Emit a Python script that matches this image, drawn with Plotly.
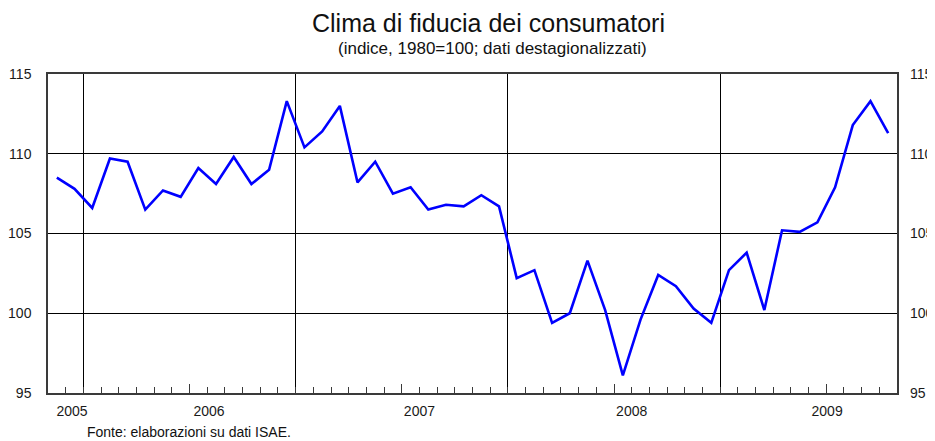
import plotly.graph_objects as go

# ---- data -----------------------------------------------------------------
months = [
    "2005-11", "2005-12",
    "2006-01", "2006-02", "2006-03", "2006-04", "2006-05", "2006-06",
    "2006-07", "2006-08", "2006-09", "2006-10", "2006-11", "2006-12",
    "2007-01", "2007-02", "2007-03", "2007-04", "2007-05", "2007-06",
    "2007-07", "2007-08", "2007-09", "2007-10", "2007-11", "2007-12",
    "2008-01", "2008-02", "2008-03", "2008-04", "2008-05", "2008-06",
    "2008-07", "2008-08", "2008-09", "2008-10", "2008-11", "2008-12",
    "2009-01", "2009-02", "2009-03", "2009-04", "2009-05", "2009-06",
    "2009-07", "2009-08", "2009-09", "2009-10",
]
clima = [
    108.5, 107.8,
    106.6, 109.7, 109.5, 106.5, 107.7, 107.3,
    109.1, 108.1, 109.8, 108.1, 109.0, 113.3,
    110.4, 111.4, 113.0, 108.2, 109.5, 107.5,
    107.9, 106.5, 106.8, 106.7, 107.4, 106.7,
    102.2, 102.7, 99.4, 100.0, 103.3, 100.2,
    96.1, 99.6, 102.4, 101.7, 100.3, 99.4,
    102.7, 103.8, 100.2, 105.2, 105.1, 105.7,
    107.9, 111.8, 113.3, 111.3,
]
year_labels = ["2005", "2006", "2007", "2008", "2009"]
y_ticks = [95, 100, 105, 110, 115]

# ---- derived axis positions (month index scale) ---------------------------
n = len(months)
xi = list(range(n))
month_bounds = [i + 0.5 for i in range(n - 1)]
year_bounds = [i - 0.5 for i, m in enumerate(months) if m.endswith("-01")]
mid_year = [i - 0.5 for i, m in enumerate(months) if m.endswith("-07")]
# label placement as drawn in the original (roughly under each year)
label_pos = [0.86, 8.6, 20.5, 32.5, 43.55]

xr = [-0.5, n - 0.5]
yr = [95, 115]
FONT = "Liberation Sans, Arial, sans-serif"
AX = "#3a3a3a"

fig = go.Figure()
fig.add_trace(go.Scatter(
    x=xi, y=clima, mode="lines",
    line=dict(color="#0000ff", width=2.6),
    hoverinfo="skip", showlegend=False,
))
# invisible companions so the overlay axes are drawn
fig.add_trace(go.Scatter(
    x=xi, y=clima, xaxis="x2", yaxis="y2", mode="lines",
    line=dict(width=0), opacity=0, hoverinfo="skip", showlegend=False,
))
fig.add_trace(go.Scatter(
    x=xi, y=clima, xaxis="x3", yaxis="y", mode="lines",
    line=dict(width=0), opacity=0, hoverinfo="skip", showlegend=False,
))

# the page body adds an 8px margin, so the figure is 8px smaller each way
fig.update_layout(
    width=927, height=433,
    margin=dict(l=40, r=38, t=66, b=48, autoexpand=False),
    paper_bgcolor="white", plot_bgcolor="white",
    font=dict(family=FONT, color="#1a1a1a", size=14),
    xaxis=dict(
        range=xr, tickmode="array", tickvals=year_bounds, automargin=False,
        showgrid=True, gridcolor="#000000", gridwidth=1,
        ticks="", showticklabels=False, zeroline=False,
        showline=True, linecolor=AX, linewidth=1.5, mirror=True,
        minor=dict(tickmode="array", tickvals=month_bounds, ticks="inside",
                   ticklen=6, tickcolor=AX, tickwidth=1, showgrid=False),
    ),
    xaxis2=dict(
        range=xr, overlaying="x", anchor="y", side="bottom", automargin=False,
        tickmode="array", tickvals=label_pos, ticktext=year_labels,
        ticks="", showgrid=False, zeroline=False, showline=False,
        tickfont=dict(size=14, color="#1a1a1a"), ticklabelstandoff=8,
    ),
    xaxis3=dict(
        range=xr, overlaying="x", anchor="y", side="bottom", automargin=False,
        tickmode="array", tickvals=mid_year, ticks="inside", ticklen=9,
        tickcolor=AX, tickwidth=1, showticklabels=False,
        showgrid=False, zeroline=False, showline=False,
    ),
    yaxis=dict(
        range=yr, tickmode="array", tickvals=y_ticks, automargin=False,
        showgrid=True, gridcolor="#000000", gridwidth=1,
        ticks="", zeroline=False, ticklabelstandoff=12,
        showline=True, linecolor=AX, linewidth=1.5, mirror=True,
        tickfont=dict(size=14, color="#1a1a1a"),
    ),
    yaxis2=dict(
        range=yr, overlaying="y", side="right", anchor="x", automargin=False,
        tickmode="array", tickvals=y_ticks, ticks="",
        showgrid=False, zeroline=False, showline=False,
        ticklabelstandoff=12, tickfont=dict(size=14, color="#1a1a1a"),
    ),
    annotations=[
        dict(text="Clima di fiducia dei consumatori", xref="paper", yref="paper",
             x=0.519, y=1.16, xanchor="center", yanchor="middle",
             showarrow=False, font=dict(size=25, color="#111111")),
        dict(text="(indice, 1980=100; dati destagionalizzati)", xref="paper",
             yref="paper", x=0.524, y=1.081, xanchor="center", yanchor="middle",
             showarrow=False, font=dict(size=17, color="#111111")),
        dict(text="Fonte: elaborazioni su dati ISAE.", xref="paper", yref="paper",
             x=0.0436, y=-0.123, xanchor="left", yanchor="middle",
             showarrow=False, font=dict(size=14, color="#111111")),
    ],
)

fig.write_html("out.html")
